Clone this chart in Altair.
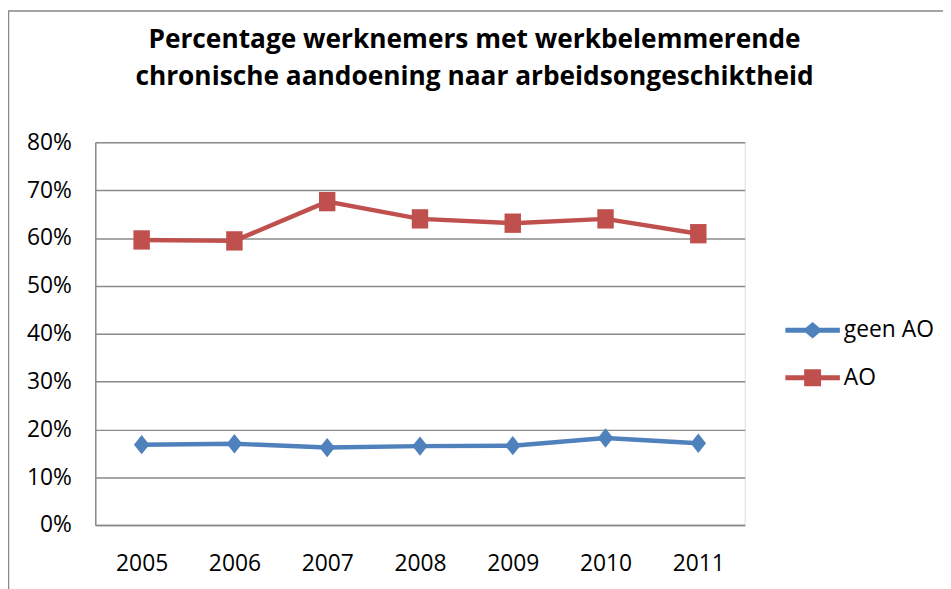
import altair as alt
import pandas as pd

years = ["2005", "2006", "2007", "2008", "2009", "2010", "2011"]
series_names = ["geen AO", "AO"]
geen_ao = [0.168, 0.170, 0.162, 0.165, 0.166, 0.182, 0.171]
ao = [0.596, 0.594, 0.676, 0.640, 0.631, 0.640, 0.609]
colors = ["#4F81BD", "#C0504D"]
y_ticks = [0, 0.1, 0.2, 0.3, 0.4, 0.5, 0.6, 0.7, 0.8]
title_lines = ["Percentage werknemers met werkbelemmerende",
               "chronische aandoening naar arbeidsongeschiktheid"]

rows = []
for name, vals in zip(series_names, [geen_ao, ao]):
    for yr, v in zip(years, vals):
        rows.append({"jaar": yr, "reeks": name, "waarde": v})
df = pd.DataFrame(rows)

FONT = "Open Sans"
GRID = "#8a8a8a"

diamond_path = "M-0.8,0L0,-1L0.8,0L0,1Z"
square_path = "M-0.85,-1L0.85,-1L0.85,1L-0.85,1Z"
leg_diamond = ("M-1,-0.09L-0.25,-0.09L0,-0.3L0.25,-0.09L1,-0.09L1,0.09L0.25,0.09"
               "L0,0.3L-0.25,0.09L-1,0.09Z")
leg_square = ("M-1,-0.09L-0.31,-0.09L-0.31,-0.31L0.31,-0.31L0.31,-0.09L1,-0.09"
              "L1,0.09L0.31,0.09L0.31,0.31L-0.31,0.31L-0.31,0.09L-1,0.09Z")

x_enc = alt.X("jaar:N", sort=years, title=None,
              scale=alt.Scale(domain=years, padding=0.5),
              axis=alt.Axis(labelAngle=0, ticks=False, grid=False,
                            labelFontSize=23, labelFont=FONT, labelColor="black",
                            labelPadding=28, domainColor=GRID, domainWidth=1.5))
y_enc = alt.Y("waarde:Q", title=None,
              scale=alt.Scale(domain=[0, 0.8], nice=False),
              axis=alt.Axis(values=y_ticks, format=".0%", ticks=False,
                            labelFontSize=23, labelFont=FONT, labelColor="black",
                            labelPadding=24, grid=True, gridColor=GRID,
                            gridWidth=1.5, domainColor=GRID, domainWidth=1.5))

base = alt.Chart(df)

line_blue = base.transform_filter(alt.datum.reeks == "geen AO").mark_line(
    strokeWidth=4.5, color=colors[0]).encode(x=x_enc, y=y_enc)
line_red = base.transform_filter(alt.datum.reeks == "AO").mark_line(
    strokeWidth=4.5, color=colors[1]).encode(x=x_enc, y=y_enc)

pts_blue = base.transform_filter(alt.datum.reeks == "geen AO").mark_point(
    shape=diamond_path, filled=True, size=380, opacity=1, color=colors[0]
).encode(x=x_enc, y=y_enc)

pts_red = base.transform_filter(alt.datum.reeks == "AO").mark_point(
    shape=square_path, filled=True, size=380, opacity=1, color=colors[1]
).encode(x=x_enc, y=y_enc)

legend_layer = base.mark_point(filled=True, opacity=1, size=1).encode(
    x=x_enc, y=y_enc,
    color=alt.Color("reeks:N", scale=alt.Scale(domain=series_names, range=colors),
                    title=None),
    shape=alt.Shape("reeks:N", scale=alt.Scale(domain=series_names,
                                               range=[leg_diamond, leg_square]),
                    title=None),
)

frame = alt.Chart(pd.DataFrame({"a": [0]})).mark_rect(
    fill=None, stroke="#888888", strokeWidth=1.5
).encode(x=alt.value(-87.5), y=alt.value(-132.5), x2=alt.value(1200), y2=alt.value(900))

chart = alt.layer(frame, line_blue, line_red, legend_layer, pts_blue, pts_red).properties(
    width=655, height=386,
    title=alt.TitleParams(text=title_lines, font=FONT, fontSize=26.5,
                          fontWeight="bold", color="black", anchor="middle",
                          frame="group", dx=55, offset=-81, lineHeight=37),
    autosize=alt.AutoSizeParams(type="none"),
    padding={"left": 88, "top": 133, "right": 200, "bottom": 62},
).configure_view(stroke=None).configure(background="white").configure_legend(
    orient="none", legendX=696, legendY=162, symbolSize=3025,
    symbolStrokeWidth=0, labelFont=FONT, labelFontSize=23, labelColor="black",
    labelOffset=4, rowPadding=8
)

chart.save("out.html", embed_options={"renderer": "svg", "actions": False})
